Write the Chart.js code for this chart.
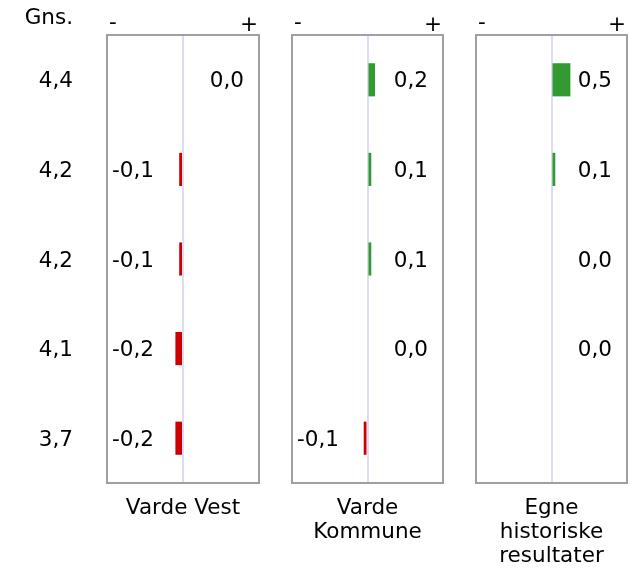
<!DOCTYPE html>
<html>
<head>
<meta charset="utf-8">
<script src="https://cdn.jsdelivr.net/npm/chart.js@4/dist/chart.umd.min.js"></script>
<style>
  html, body { margin: 0; padding: 0; background: #fff; }
  #wrap { position: relative; width: 632px; height: 570px; overflow: hidden; }
  canvas { position: absolute; top: 0; }
</style>
</head>
<body>
<div id="wrap">
  <canvas id="c1" width="275" height="570" style="left:0px"></canvas>
  <canvas id="c2" width="184" height="570" style="left:275px"></canvas>
  <canvas id="c3" width="173" height="570" style="left:459px"></canvas>
</div>
<script>
// ---- data ----
const rows = ['1', '2', '3', '4', '5'];
const averages = [4.4, 4.2, 4.2, 4.1, 3.7];
const averageHeader = 'Gns.';
const vardeVest = [0.0, -0.1, -0.1, -0.2, -0.2];
const vardeKommune = [0.2, 0.1, 0.1, 0.0, -0.1];
const egneHistoriske = [0.5, 0.1, 0.0, 0.0, null];
const panelTitles = [['Varde Vest'], ['Varde', 'Kommune'], ['Egne', 'historiske', 'resultater']];
const minusLabel = '-';
const plusLabel = '+';
const scaleMin = -2, scaleMax = 2;

const FONT = '21.5px "DejaVu Sans", Verdana, sans-serif';
const TEXT = '#000';
const fmt = v => v.toFixed(1).replace('.', ',');

function panelPlugin(titleLines, showAverages) {
  return {
    id: 'panelDecor',
    afterDraw(chart) {
      const ctx = chart.ctx;
      const a = chart.chartArea;
      const xs = chart.scales.x;
      ctx.save();
      // frame
      ctx.strokeStyle = '#a0a0a0';
      ctx.lineWidth = 2;
      ctx.strokeRect(a.left, a.top, a.right - a.left, a.bottom - a.top);
      ctx.font = FONT;
      ctx.fillStyle = TEXT;
      // - / +
      ctx.textBaseline = 'alphabetic';
      ctx.textAlign = 'center';
      ctx.fillText(minusLabel, a.left + 6, 29);
      ctx.fillText(plusLabel, a.right - 10, 31);
      // value labels
      const ds = chart.data.datasets[0];
      const meta = chart.getDatasetMeta(0);
      ctx.textBaseline = 'middle';
      meta.data.forEach((el, i) => {
        const v = ds.data[i];
        if (v === null || v === undefined) return;
        if (v < 0) {
          ctx.textAlign = 'left';
          ctx.fillText(fmt(v), a.left + 5, el.y + 2);
        } else {
          ctx.textAlign = 'right';
          ctx.fillText(fmt(v), a.right - 15, el.y + 2);
        }
      });
      // averages column
      if (showAverages) {
        const ys = chart.scales.y;
        ctx.textAlign = 'right';
        averages.forEach((v, i) => {
          ctx.fillText(fmt(v), 73, ys.getPixelForValue(i) + 2);
        });
        ctx.textBaseline = 'alphabetic';
        ctx.fillText(averageHeader, 73, 24);
      }
      // panel title
      ctx.textAlign = 'center';
      ctx.textBaseline = 'alphabetic';
      const cx = xs.getPixelForValue(0);
      titleLines.forEach((t, k) => {
        ctx.fillText(t, cx, 514 + k * 24);
      });
      ctx.restore();
    }
  };
}

function makeChart(id, values, titleLines, pad, showAverages) {
  return new Chart(document.getElementById(id), {
    type: 'bar',
    data: {
      labels: rows,
      datasets: [{
        data: values,
        backgroundColor: values.map(v => (v !== null && v < 0) ? '#cc0000' : '#339933'),
        borderWidth: 0,
        categoryPercentage: 1,
        barPercentage: 0.37
      }]
    },
    options: {
      indexAxis: 'y',
      responsive: false,
      animation: false,
      devicePixelRatio: 1,
      layout: { padding: pad },
      plugins: { legend: { display: false }, tooltip: { enabled: false }, title: { display: false } },
      scales: {
        x: {
          min: scaleMin, max: scaleMax,
          display: true,
          ticks: { display: false, stepSize: 1 },
          grid: {
            drawTicks: false,
            lineWidth: 2,
            color: c => (c.tick && c.tick.value === 0) ? '#dcdcf4' : 'rgba(0,0,0,0)'
          },
          border: { display: false },
          afterFit: s => { s.height = 0; }
        },
        y: { display: false }
      }
    },
    plugins: [panelPlugin(titleLines, showAverages)]
  });
}

makeChart('c1', vardeVest, panelTitles[0], { left: 107, right: 16, top: 35, bottom: 87 }, true);
makeChart('c2', vardeKommune, panelTitles[1], { left: 17, right: 16, top: 35, bottom: 87 }, false);
makeChart('c3', egneHistoriske, panelTitles[2], { left: 17, right: 5, top: 35, bottom: 87 }, false);
</script>
</body>
</html>
